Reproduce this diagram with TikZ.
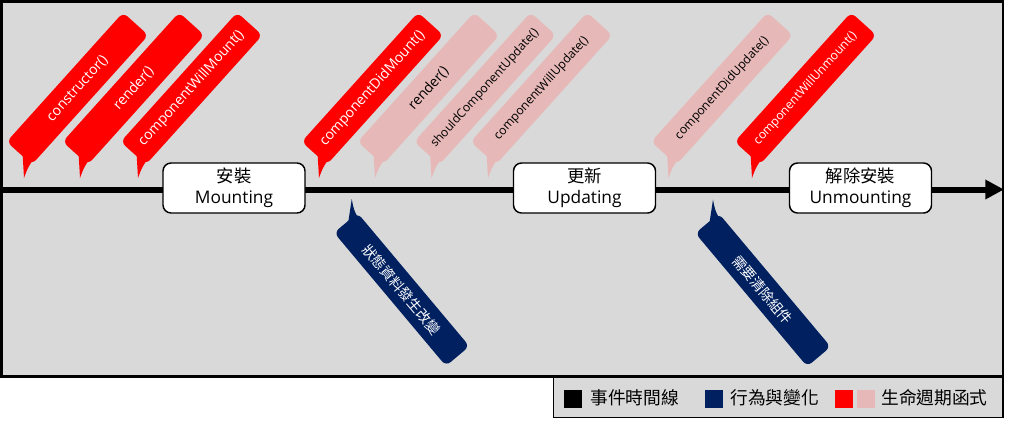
\documentclass[tikz,border=0pt]{standalone}
\usepackage{fontspec}
\setmainfont{Open Sans}
\newfontfamily\cjk{Noto Sans CJK TC}
\usetikzlibrary{arrows.meta,calc}
\definecolor{bggray}{HTML}{D9D9D9}
\definecolor{lcred}{HTML}{FF0000}
\definecolor{lcpink}{HTML}{E6B9B8}
\definecolor{lcnavy}{HTML}{002060}
\newcommand\uptail[2]{\fill[#2] ($(#1.center)+(-55,64)$) -- ($(#1.center)+(-53.5,89.5)$) .. controls ($(#1.center)+(-50,80)$) .. ($(#1.center)+(-45,72)$) -- cycle;}
\newcommand\downtail[1]{\fill[lcnavy] ($(#1.center)+(-54,-64)$) -- ($(#1.center)+(-50,-90.5)$) .. controls ($(#1.center)+(-48,-80)$) .. ($(#1.center)+(-44,-72)$) -- cycle;}
\begin{document}
\begin{tikzpicture}[x=0.75pt,y=-0.75pt,
  callout/.style={rectangle, rounded corners=4.5pt, inner sep=0pt, minimum width=130.5pt, minimum height=25.5pt},
  upred/.style={callout, fill=lcred, text=white, rotate=48, font=\fontsize{10.5}{12}\selectfont},
  uppink/.style={callout, fill=lcpink, text=black, rotate=48, font=\fontsize{10.5}{12}\selectfont},
  smalltxt/.style={font=\fontsize{9.1}{11}\selectfont},
  downnavy/.style={callout, minimum height=23pt, fill=lcnavy, text=white, rotate=-50, font=\cjk\fontsize{10.5}{12}\selectfont},
  phase/.style={draw=black, line width=1.1pt, fill=white, rounded corners=6pt, minimum width=106.5pt, minimum height=37.5pt, inner sep=0pt, align=center, font=\fontsize{13}{16}\selectfont},
  legsq/.style={minimum size=13.5pt, inner sep=0pt},
  legtxt/.style={anchor=west, inner sep=0pt, font=\cjk\fontsize{13.3}{15}\selectfont}
]
\useasboundingbox (0,0) rectangle (1024,421);
% frame
\draw[line width=1.9pt, fill=bggray] (1.25,1.25) rectangle (1003,376.5);
% timeline
\coordinate (tlA) at (0,189.5);
\coordinate (tlB) at (1004,189.5);
\draw[line width=4.5pt, -{Triangle[length=14pt,width=13.9pt]}] (tlA) -- (tlB);
% lifecycle callouts
\node[upred] (c1) at (77.5,88.5) {constructor()};
\uptail{c1}{lcred}
\node[upred] (c2) at (133.5,88.5) {render()};
\uptail{c2}{lcred}
\node[upred] (c3) at (191.5,88.5) {componentWillMount()};
\uptail{c3}{lcred}
\node[upred] (c4) at (372.5,88.5) {componentDidMount()};
\uptail{c4}{lcred}
\node[uppink] (c5) at (428.5,88.5) {render()};
\uptail{c5}{lcpink}
\node[uppink, smalltxt] (c6) at (485,88.5) {shouldComponentUpdate()};
\uptail{c6}{lcpink}
\node[uppink, smalltxt] (c7) at (541.5,88.5) {componentWillUpdate()};
\uptail{c7}{lcpink}
\node[uppink, smalltxt] (c8) at (722,88.5) {componentDidUpdate()};
\uptail{c8}{lcpink}
\node[upred, smalltxt] (c9) at (805.5,88.5) {componentWillUnmount()};
\uptail{c9}{lcred}
% action callouts
\node[downnavy] (n1) at (401.75,289.5) {狀態資料發生改變};
\downtail{n1}
\node[downnavy] (n2) at (763,290) {需要清除組件};
\downtail{n2}
% phases
\node[phase] (p1) at (234,188) {{\cjk 安裝}\\Mounting};
\node[phase] (p2) at (584.5,188) {{\cjk 更新}\\Updating};
\node[phase] (p3) at (860.5,188) {{\cjk 解除安裝}\\Unmounting};
% legend
\draw[line width=1.1pt, fill=bggray] (553.5,377) rectangle (1003,417.5);
\node[legsq, fill=black] (lk) at (573,398.5) {};
\node[legtxt] (lkt) at (590,398) {事件時間線};
\node[legsq, fill=lcnavy] (ln) at (713.5,398.5) {};
\node[legtxt] (lnt) at (730,398) {行為與變化};
\node[legsq, fill=lcred] (lr) at (844,398.5) {};
\node[legsq, fill=lcpink] (lp) at (866,398.5) {};
\node[legtxt] (lpt) at (881,398) {生命週期函式};
\end{tikzpicture}
\end{document}
